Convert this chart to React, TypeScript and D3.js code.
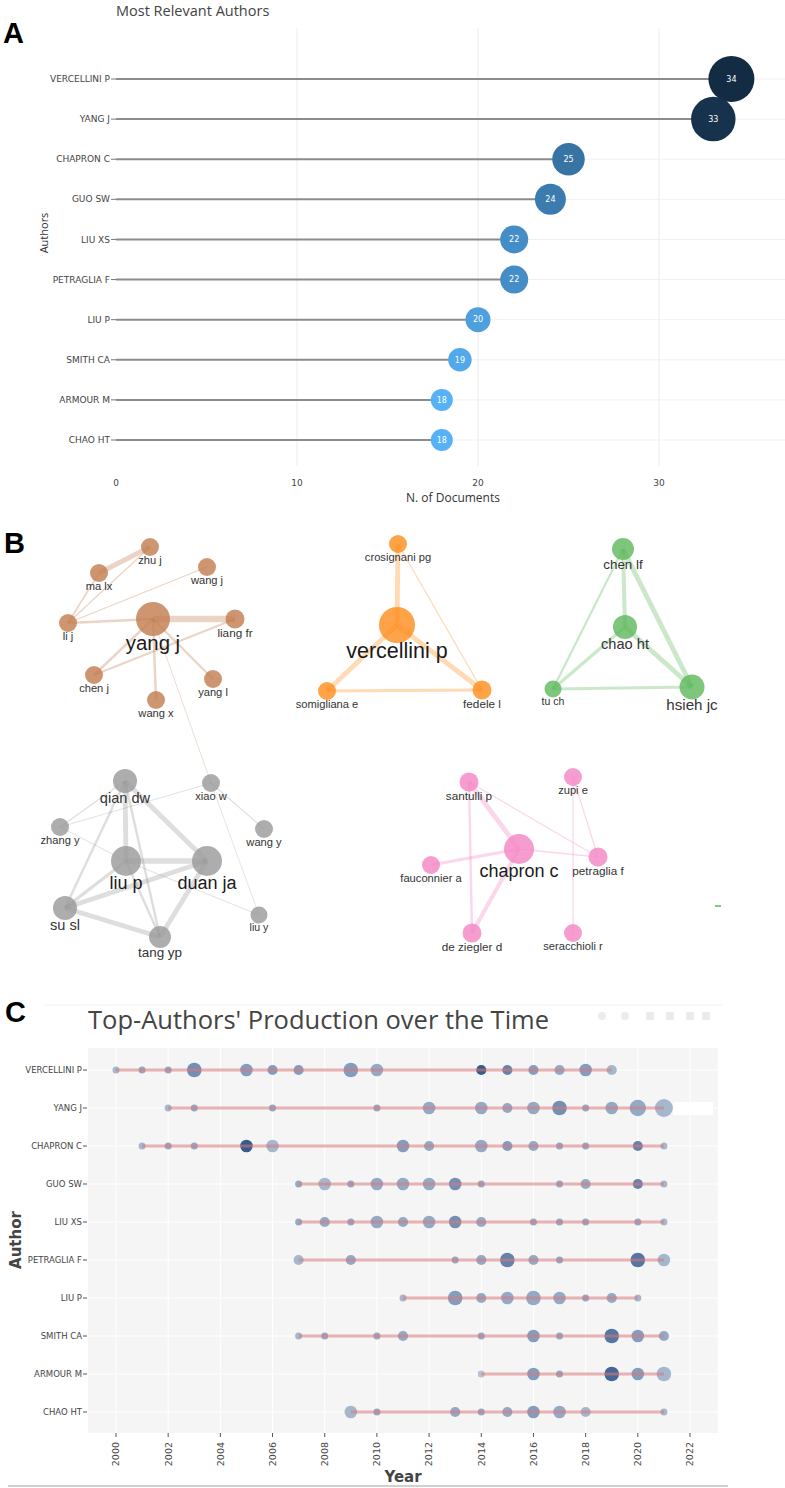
import React from "react";
import * as d3 from "d3";

// ---- Panel A: most relevant authors ----
const authorsA = ["VERCELLINI P", "YANG J", "CHAPRON C", "GUO SW", "LIU XS", "PETRAGLIA F", "LIU P", "SMITH CA", "ARMOUR M", "CHAO HT"];
const docsA = [34, 33, 25, 24, 22, 22, 20, 19, 18, 18];
const ticksA = [0, 10, 20, 30];

// ---- Panel B: co-authorship network (layout coords from the picture) ----
type NetNode = { id: string; cluster: string; x: number; y: number; size: number };
const netNodes: NetNode[] = [
  { id: "zhu j", cluster: "brown", x: 150, y: 27, size: 1 },
  { id: "ma lx", cluster: "brown", x: 99, y: 53, size: 1 },
  { id: "wang j", cluster: "brown", x: 207, y: 47, size: 1 },
  { id: "li j", cluster: "brown", x: 68, y: 103, size: 1 },
  { id: "yang j", cluster: "brown", x: 153, y: 99, size: 9 },
  { id: "liang fr", cluster: "brown", x: 235, y: 99, size: 1.5 },
  { id: "chen j", cluster: "brown", x: 94, y: 155, size: 1 },
  { id: "yang l", cluster: "brown", x: 213, y: 159, size: 1 },
  { id: "wang x", cluster: "brown", x: 156, y: 180, size: 1 },
  { id: "crosignani pg", cluster: "orange", x: 398, y: 24, size: 1 },
  { id: "vercellini p", cluster: "orange", x: 397, y: 105, size: 10 },
  { id: "somigliana e", cluster: "orange", x: 327, y: 171, size: 1 },
  { id: "fedele l", cluster: "orange", x: 482, y: 170, size: 1.5 },
  { id: "chen lf", cluster: "green", x: 623, y: 29, size: 3 },
  { id: "chao ht", cluster: "green", x: 625, y: 107, size: 4 },
  { id: "tu ch", cluster: "green", x: 553, y: 169, size: 0.5 },
  { id: "hsieh jc", cluster: "green", x: 692, y: 167, size: 4.5 },
  { id: "qian dw", cluster: "gray", x: 125, y: 261, size: 4 },
  { id: "xiao w", cluster: "gray", x: 211, y: 263, size: 1 },
  { id: "zhang y", cluster: "gray", x: 60, y: 307, size: 1 },
  { id: "wang y", cluster: "gray", x: 264, y: 309, size: 1 },
  { id: "liu p", cluster: "gray", x: 126, y: 341, size: 7 },
  { id: "duan ja", cluster: "gray", x: 207, y: 341, size: 7 },
  { id: "su sl", cluster: "gray", x: 65, y: 388, size: 4 },
  { id: "tang yp", cluster: "gray", x: 160, y: 417, size: 3 },
  { id: "liu y", cluster: "gray", x: 259, y: 395, size: 0.5 },
  { id: "santulli p", cluster: "pink", x: 469, y: 262, size: 1.5 },
  { id: "zupi e", cluster: "pink", x: 573, y: 257, size: 1 },
  { id: "chapron c", cluster: "pink", x: 519, y: 329, size: 7 },
  { id: "fauconnier a", cluster: "pink", x: 431, y: 345, size: 1 },
  { id: "petraglia f", cluster: "pink", x: 598, y: 337, size: 1.5 },
  { id: "de ziegler d", cluster: "pink", x: 472, y: 413, size: 1.5 },
  { id: "seracchioli r", cluster: "pink", x: 573, y: 413, size: 1 },
];

const netEdges: [string, string, number][] = [
  ["yang j", "liang fr", 4], ["ma lx", "zhu j", 3], ["li j", "ma lx", 1], ["li j", "zhu j", 0.8],
  ["li j", "wang j", 0.8], ["li j", "yang j", 1.5], ["yang j", "chen j", 1.5], ["chen j", "liang fr", 1.2],
  ["yang j", "yang l", 1.5], ["yang j", "wang x", 1.5], ["yang j", "xiao w", 0.5],
  ["vercellini p", "crosignani pg", 3], ["vercellini p", "somigliana e", 3], ["vercellini p", "fedele l", 3],
  ["somigliana e", "fedele l", 2], ["crosignani pg", "fedele l", 0.8],
  ["chen lf", "chao ht", 2.5], ["chen lf", "hsieh jc", 3], ["chen lf", "tu ch", 1.5],
  ["chao ht", "tu ch", 2], ["chao ht", "hsieh jc", 3], ["tu ch", "hsieh jc", 2],
  ["qian dw", "liu p", 3], ["qian dw", "duan ja", 3], ["qian dw", "su sl", 1.5], ["qian dw", "tang yp", 1.5],
  ["liu p", "duan ja", 3.5], ["liu p", "su sl", 2], ["liu p", "tang yp", 1.5], ["duan ja", "su sl", 3],
  ["duan ja", "tang yp", 3], ["su sl", "tang yp", 3], ["zhang y", "qian dw", 0.8], ["zhang y", "xiao w", 0.6],
  ["zhang y", "liu p", 0.6], ["liu p", "liu y", 0.6], ["xiao w", "wang y", 0.7], ["xiao w", "liu y", 0.5],
  ["santulli p", "chapron c", 3], ["santulli p", "de ziegler d", 1.5], ["santulli p", "petraglia f", 0.8],
  ["chapron c", "fauconnier a", 2], ["chapron c", "petraglia f", 1], ["chapron c", "de ziegler d", 2.5],
  ["zupi e", "petraglia f", 0.8], ["zupi e", "seracchioli r", 0.8],
];

const clusterColors: Record<string, string> = {
  brown: "#c27a4e",
  orange: "#ff8c1a",
  green: "#5cb85a",
  gray: "#999999",
  pink: "#f484c4",
};

// ---- Panel C: production over time ----
const authorsC = ["VERCELLINI P", "YANG J", "CHAPRON C", "GUO SW", "LIU XS", "PETRAGLIA F", "LIU P", "SMITH CA", "ARMOUR M", "CHAO HT"];
// author, year, articles, citation intensity (0-10)
const production: [string, number, number, number][] = [
  ["VERCELLINI P", 2000, 1, 3], ["VERCELLINI P", 2001, 1, 4], ["VERCELLINI P", 2002, 1, 4], ["VERCELLINI P", 2003, 4, 6],
  ["VERCELLINI P", 2005, 3, 5], ["VERCELLINI P", 2006, 2, 5], ["VERCELLINI P", 2007, 2, 5], ["VERCELLINI P", 2009, 4, 5],
  ["VERCELLINI P", 2010, 3, 4], ["VERCELLINI P", 2014, 2, 10], ["VERCELLINI P", 2015, 2, 7], ["VERCELLINI P", 2016, 2, 5],
  ["VERCELLINI P", 2017, 2, 4], ["VERCELLINI P", 2018, 3, 5], ["VERCELLINI P", 2019, 2, 3],
  ["YANG J", 2002, 1, 3], ["YANG J", 2003, 1, 4], ["YANG J", 2006, 1, 4], ["YANG J", 2010, 1, 4], ["YANG J", 2012, 3, 4],
  ["YANG J", 2014, 3, 4], ["YANG J", 2015, 2, 4], ["YANG J", 2016, 3, 4], ["YANG J", 2017, 4, 6], ["YANG J", 2018, 1, 4],
  ["YANG J", 2019, 3, 4], ["YANG J", 2020, 5, 4], ["YANG J", 2021, 6, 3],
  ["CHAPRON C", 2001, 1, 3], ["CHAPRON C", 2002, 1, 4], ["CHAPRON C", 2003, 1, 4], ["CHAPRON C", 2005, 3, 10],
  ["CHAPRON C", 2006, 3, 3], ["CHAPRON C", 2011, 3, 5], ["CHAPRON C", 2012, 2, 4], ["CHAPRON C", 2014, 3, 4],
  ["CHAPRON C", 2015, 2, 5], ["CHAPRON C", 2016, 2, 4], ["CHAPRON C", 2017, 1, 4], ["CHAPRON C", 2018, 1, 4],
  ["CHAPRON C", 2020, 2, 7], ["CHAPRON C", 2021, 1, 3],
  ["GUO SW", 2007, 1, 4], ["GUO SW", 2008, 3, 3], ["GUO SW", 2009, 1, 4], ["GUO SW", 2010, 3, 4], ["GUO SW", 2011, 3, 4],
  ["GUO SW", 2012, 3, 4], ["GUO SW", 2013, 3, 6], ["GUO SW", 2014, 1, 4], ["GUO SW", 2017, 1, 4], ["GUO SW", 2018, 2, 4],
  ["GUO SW", 2020, 2, 7], ["GUO SW", 2021, 1, 3],
  ["LIU XS", 2007, 1, 4], ["LIU XS", 2008, 2, 4], ["LIU XS", 2009, 1, 4], ["LIU XS", 2010, 3, 4], ["LIU XS", 2011, 2, 4],
  ["LIU XS", 2012, 3, 4], ["LIU XS", 2013, 3, 6], ["LIU XS", 2014, 2, 4], ["LIU XS", 2016, 1, 4], ["LIU XS", 2017, 1, 4],
  ["LIU XS", 2018, 1, 4], ["LIU XS", 2020, 1, 4], ["LIU XS", 2021, 1, 3],
  ["PETRAGLIA F", 2007, 2, 3], ["PETRAGLIA F", 2009, 2, 4], ["PETRAGLIA F", 2013, 1, 4], ["PETRAGLIA F", 2014, 2, 4],
  ["PETRAGLIA F", 2015, 4, 7], ["PETRAGLIA F", 2016, 2, 4], ["PETRAGLIA F", 2017, 1, 4], ["PETRAGLIA F", 2020, 4, 8],
  ["PETRAGLIA F", 2021, 3, 3],
  ["LIU P", 2011, 1, 3], ["LIU P", 2013, 4, 5], ["LIU P", 2014, 2, 4], ["LIU P", 2015, 3, 4], ["LIU P", 2016, 4, 4],
  ["LIU P", 2017, 3, 4], ["LIU P", 2018, 1, 4], ["LIU P", 2019, 2, 4], ["LIU P", 2020, 1, 3],
  ["SMITH CA", 2007, 1, 3], ["SMITH CA", 2008, 1, 4], ["SMITH CA", 2010, 1, 4], ["SMITH CA", 2011, 2, 4],
  ["SMITH CA", 2014, 1, 4], ["SMITH CA", 2016, 3, 5], ["SMITH CA", 2017, 1, 4], ["SMITH CA", 2019, 4, 8],
  ["SMITH CA", 2020, 3, 5], ["SMITH CA", 2021, 2, 4],
  ["ARMOUR M", 2014, 1, 2], ["ARMOUR M", 2016, 3, 5], ["ARMOUR M", 2017, 1, 4], ["ARMOUR M", 2019, 4, 9],
  ["ARMOUR M", 2020, 3, 5], ["ARMOUR M", 2021, 4, 3],
  ["CHAO HT", 2009, 3, 3], ["CHAO HT", 2010, 1, 4], ["CHAO HT", 2013, 2, 4], ["CHAO HT", 2014, 1, 4],
  ["CHAO HT", 2015, 2, 4], ["CHAO HT", 2016, 3, 5], ["CHAO HT", 2017, 3, 4], ["CHAO HT", 2018, 2, 3],
  ["CHAO HT", 2021, 1, 3],
];
const yearTicks = d3.range(2000, 2023, 2);

const SANS = "'Open Sans', 'DejaVu Sans', sans-serif";
const VERD = "'DejaVu Sans', Verdana, sans-serif";
const ARIAL = "'Liberation Sans', Arial, sans-serif";

export default function App() {
  // Panel A scales
  const xA = d3.scaleLinear().domain([0, 30]).range([116, 659]);
  const yA = d3.scalePoint<string>().domain(authorsA).range([79, 440]);
  const rA = d3.scaleLinear().domain([18, 34]).range([11, 23]);
  const cA = d3.scaleLinear<string>().domain([18, 34]).range(["#56B1F7", "#132B43"]).interpolate(d3.interpolateLab);

  // Panel B scales
  const xN = d3.scaleLinear().domain([0, 785]).range([0, 785]);
  const yN = d3.scaleLinear().domain([0, 450]).range([520, 970]);
  const rN = d3.scaleLinear().domain([0, 10]).range([8, 18]);
  const fN = d3.scaleLinear().domain([0, 10]).range([10, 21.5]);
  const wN = d3.scaleLinear().domain([0.5, 4]).range([0.8, 6.5]);
  const byId = new Map(netNodes.map((n) => [n.id, n]));

  // Panel C scales
  const xC = d3.scaleLinear().domain([2000, 2022]).range([116, 690]);
  const yC = d3.scalePoint<string>().domain(authorsC).range([1070, 1412]);
  const rC = d3.scaleSqrt().domain([1, 6]).range([3.5, 9]);
  const cC = d3.scaleLinear<string>().domain([0, 10]).range(["#cdd9e7", "#143f7a"]);
  const spans = authorsC.map((a) => {
    const ys = production.filter((p) => p[0] === a).map((p) => p[1]);
    return { a, min: d3.min(ys) as number, max: d3.max(ys) as number };
  });

  return (
    <svg width={785} height={1488} style={{ position: "absolute", left: 0, top: 0, background: "#fff" }}>
      {/* ===== A ===== */}
      <text x={116} y={16} fontFamily={SANS} fontSize={14.5} fill="#444">Most Relevant Authors</text>
      <text x={3} y={43} fontFamily={ARIAL} fontSize={29} fontWeight="bold" fill="#000">A</text>
      {ticksA.slice(1).map((t) => (
        <line key={t} x1={xA(t)} x2={xA(t)} y1={28} y2={466} stroke="#ececec" />
      ))}
      {authorsA.map((a, i) => (
        <g key={a}>
          <line x1={xA(0)} x2={785} y1={yA(a)} y2={yA(a)} stroke="#f1f1f1" />
          <line x1={xA(0)} x2={xA(docsA[i])} y1={yA(a)} y2={yA(a)} stroke="#8c8c8c" strokeWidth={2} />
          <line x1={111} x2={116} y1={yA(a)} y2={yA(a)} stroke="#777" />
          <text x={110} y={yA(a)} dy="0.35em" textAnchor="end" fontFamily={VERD} fontSize={9} fill="#444">{a}</text>
        </g>
      ))}
      {authorsA.map((a, i) => (
        <g key={a + "c"}>
          <circle cx={xA(docsA[i])} cy={yA(a)} r={rA(docsA[i])} fill={cA(docsA[i])} />
          <text x={xA(docsA[i])} y={yA(a)} dy="0.35em" textAnchor="middle" fontFamily={VERD} fontSize={8} fill="#fff">{docsA[i]}</text>
        </g>
      ))}
      {ticksA.map((t) => (
        <text key={t} x={xA(t)} y={486} textAnchor="middle" fontFamily={VERD} fontSize={9} fill="#444">{t}</text>
      ))}
      <text x={453} y={502} textAnchor="middle" fontFamily={SANS} fontSize={12} fill="#333">N. of Documents</text>
      <text transform="translate(48,233) rotate(-90)" textAnchor="middle" fontFamily={SANS} fontSize={11} fill="#333">Authors</text>

      {/* ===== B ===== */}
      <text x={4} y={553} fontFamily={ARIAL} fontSize={29} fontWeight="bold" fill="#000">B</text>
      {netEdges.map(([s, t, w], i) => {
        const a = byId.get(s)!;
        const b = byId.get(t)!;
        return (
          <line key={i} x1={xN(a.x)} y1={yN(a.y)} x2={xN(b.x)} y2={yN(b.y)}
            stroke={clusterColors[a.cluster]} strokeOpacity={0.32} strokeWidth={wN(w)} />
        );
      })}
      {netNodes.map((n) => (
        <circle key={n.id} cx={xN(n.x)} cy={yN(n.y)} r={rN(n.size)} fill={clusterColors[n.cluster]} fillOpacity={0.8} />
      ))}
      {netNodes.map((n) => (
        <text key={n.id + "l"} x={xN(n.x)} y={yN(n.y) + rN(n.size) + fN(n.size) * 0.7} textAnchor="middle"
          fontFamily={ARIAL} fontSize={fN(n.size)} fill={n.size > 5 ? "#1a1a1a" : "#333"}>{n.id}</text>
      ))}
      <line x1={715} x2={721} y1={906} y2={906} stroke="#5cb85a" strokeWidth={1.5} />

      {/* ===== C ===== */}
      <text x={5} y={1022} fontFamily={ARIAL} fontSize={29} fontWeight="bold" fill="#000">C</text>
      <line x1={44} x2={722} y1={1005} y2={1005} stroke="#f0f0f0" />
      <text x={88} y={1029} fontFamily={SANS} fontSize={25.5} fill="#444">Top-Authors' Production over the Time</text>
      {[602, 625, 650, 670, 690, 706].map((x, i) => (
        <rect key={i} x={x - 4} y={1012} width={8} height={8} rx={i < 2 ? 4 : 1} fill="#ececec" />
      ))}
      <rect x={88} y={1048} width={630} height={385} fill="#f5f5f5" />
      {yearTicks.map((t) => (
        <line key={t} x1={xC(t)} x2={xC(t)} y1={1048} y2={1433} stroke="#fff" />
      ))}
      {authorsC.map((a) => (
        <line key={a} x1={88} x2={718} y1={yC(a)} y2={yC(a)} stroke="#fff" />
      ))}
      {production.map((p, i) => (
        <circle key={i} cx={xC(p[1])} cy={yC(p[0])} r={rC(p[2])} fill={cC(p[3])} fillOpacity={0.85} />
      ))}
      {spans.map((s) => (
        <line key={s.a} x1={xC(s.min)} x2={xC(s.max)} y1={yC(s.a)} y2={yC(s.a)}
          stroke="#d9777a" strokeOpacity={0.55} strokeWidth={3} />
      ))}
      <rect x={673} y={1102} width={40} height={13} fill="#fff" />
      {authorsC.map((a) => (
        <g key={a + "t"}>
          <line x1={83} x2={87} y1={yC(a)} y2={yC(a)} stroke="#555" />
          <text x={82} y={yC(a)} dy="0.35em" textAnchor="end" fontFamily={VERD} fontSize={8.5} fill="#444">{a}</text>
        </g>
      ))}
      {yearTicks.map((t) => (
        <g key={t + "x"}>
          <line x1={xC(t)} x2={xC(t)} y1={1433} y2={1437} stroke="#555" />
          <text transform={`translate(${xC(t)},1442) rotate(-90)`} dy="0.35em" textAnchor="end"
            fontFamily={VERD} fontSize={9.5} fill="#444">{t}</text>
        </g>
      ))}
      <text x={403} y={1482} textAnchor="middle" fontFamily={VERD} fontSize={15} fontWeight="bold" fill="#444">Year</text>
      <text transform="translate(16,1240) rotate(-90)" dy="0.35em" textAnchor="middle" fontFamily={VERD} fontSize={15}
        fontWeight="bold" fill="#444">Author</text>
      <line x1={8} x2={728} y1={1486} y2={1486} stroke="#d0d0d0" strokeWidth={2} />
    </svg>
  );
}
